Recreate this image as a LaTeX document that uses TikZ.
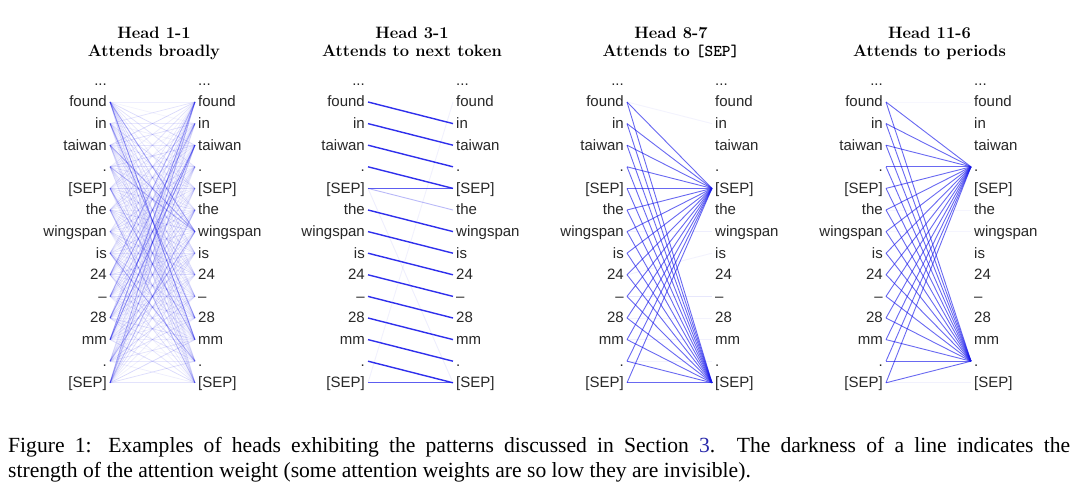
\documentclass[tikz,border=0pt]{standalone}
\usepackage{fontspec}
\setsansfont{Liberation Sans}
\newfontfamily\capfont{Liberation Serif}
\definecolor{linkblue}{RGB}{40,40,170}
\definecolor{attblue}{RGB}{25,25,235}
\definecolor{tokgray}{RGB}{40,40,40}
\newcommand\tokdots{...}
\newcommand\tokdot{.}
\newcommand\toksep{[SEP]}
\def\toklist{\tokdots,found,in,taiwan,\tokdot,\toksep,the,wingspan,is,24,--,28,mm,\tokdot,\toksep}
\begin{document}
\begin{tikzpicture}[x=1pt,y=-1pt,
  tok/.style={font=\sffamily\fontsize{15}{18}\selectfont, text=tokgray, inner sep=0pt},
  ttl/.style={font=\bfseries\fontsize{16.5}{19}\selectfont, inner sep=0pt, anchor=base},
  att/.style={draw=attblue, line width=0.9pt},
  strong/.style={draw=attblue, line width=1.4pt, opacity=0.9},
  capt/.style={font=\capfont\fontsize{21.6}{25}\selectfont, inner sep=0pt, anchor=base west}]
\useasboundingbox (0,0) rectangle (1080,497);
\fill[white] (0,0) rectangle (1080,497);

% token coordinates and labels
\foreach \p/\xl in {1/110,2/368,3/627,4/886}{
  \foreach \t [count=\k from 0] in \toklist {
    \coordinate (L\p-\k) at (\xl, 80.4+21.6*\k);
    \coordinate (R\p-\k) at (\xl+85, 80.4+21.6*\k);
    \node[tok, anchor=base east] (tl\p-\k) at (\xl-3, 85.4+21.6*\k) {\t};
    \node[tok, anchor=base west] (tr\p-\k) at (\xl+88, 85.4+21.6*\k) {\t};
  }
}

% titles
\node[ttl] (h1a) at (154,39) {Head 1-1};
\node[ttl] (h1b) at (154,57) {Attends broadly};
\node[ttl] (h2a) at (412,39) {Head 3-1};
\node[ttl] (h2b) at (412,57) {Attends to next token};
\node[ttl] (h3a) at (671,39) {Head 8-7};
\node[ttl] (h3b) at (671,57) {Attends to \texttt{[SEP]}};
\node[ttl] (h4a) at (929.5,39) {Head 11-6};
\node[ttl] (h4b) at (929.5,57) {Attends to periods};

% Panel 1: attends broadly
\foreach \i in {1,...,14}{
  \foreach \j in {1,...,14}{
    \pgfmathsetmacro\op{0.05+0.12*mod(\i*37+\j*53,11)/10}
    \draw[att, line width=0.7pt, opacity=\op] (L1-\i) -- (R1-\j);
  }
}
\foreach \i/\j/\o in {1/12/0.45,1/7/0.35,2/11/0.3,12/1/0.4,12/3/0.4,11/3/0.35,9/1/0.3,
  4/7/0.25,3/7/0.25,13/7/0.25,14/6/0.25,6/14/0.2,10/2/0.3,8/13/0.25,5/12/0.25,14/1/0.2,14/3/0.2}{
  \draw[att, opacity=\o] (L1-\i) -- (R1-\j);
}

% Panel 2: attends to next token
\foreach \i in {1,2,3,4,6,7,8,9,10,11,12,13}{
  \pgfmathtruncatemacro\j{\i+1}
  \draw[strong] (L2-\i) -- (R2-\j);
}
\draw[att, opacity=0.7] (L2-5) -- (R2-5);
\draw[att, opacity=0.3] (L2-5) -- (R2-6);
\draw[att, opacity=0.7] (L2-14) -- (R2-14);
\draw[att, opacity=0.07] (L2-5) -- (R2-14);
\draw[att, opacity=0.06] (L2-14) -- (R2-1);

% Panel 3: attends to [SEP]
\foreach \i in {1,...,14}{
  \draw[att, opacity=0.65] (L3-\i) -- (R3-5);
  \draw[att, opacity=0.65] (L3-\i) -- (R3-14);
}
\foreach \i/\j/\o in {1/2/0.05,7/7/0.07,10/10/0.1,11/11/0.05,12/12/0.06,9/8/0.05,13/13/0.05}{
  \draw[att, opacity=\o] (L3-\i) -- (R3-\j);
}

% Panel 4: attends to periods
\foreach \i in {1,...,14}{
  \draw[att, opacity=0.65] (L4-\i) -- (R4-4);
  \draw[att, opacity=0.65] (L4-\i) -- (R4-13);
}
\foreach \i/\j/\o in {14/14/0.06,6/6/0.04,7/7/0.04,1/1/0.03}{
  \draw[att, opacity=\o] (L4-\i) -- (R4-\j);
}

% caption
\node[capt] (cap1) at (8,452) {\makebox[1062pt][s]{Figure 1: Examples of heads exhibiting the patterns discussed in Section \textcolor{linkblue}{3}. The darkness of a line indicates the}};
\node[capt] (cap2) at (8,477) {strength of the attention weight (some attention weights are so low they are invisible).};
\end{tikzpicture}
\end{document}
